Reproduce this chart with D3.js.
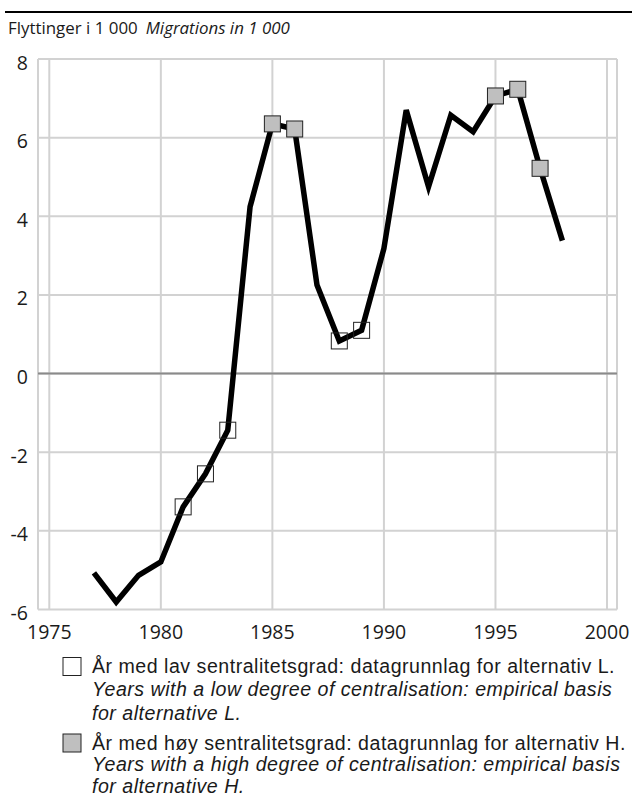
<!DOCTYPE html>
<html><head><meta charset="utf-8">
<script src="https://cdn.jsdelivr.net/npm/d3@7"></script>
<style>
html,body{margin:0;padding:0;background:#fff;}
svg{display:block;font-family:"Open Sans",sans-serif;}
</style></head>
<body>
<svg id="c" width="632" height="796"></svg>
<script>
const years = [1977,1978,1979,1980,1981,1982,1983,1984,1985,1986,1987,1988,1989,1990,1991,1992,1993,1994,1995,1996,1997,1998];
const migrations = [-5.07,-5.81,-5.13,-4.79,-3.39,-2.55,-1.44,4.24,6.35,6.22,2.25,0.83,1.10,3.18,6.70,4.75,6.57,6.15,7.06,7.23,5.22,3.38];
const lowYears = [1981,1982,1983,1988,1989];
const highYears = [1985,1986,1995,1996,1997];
const xTicks = [1975,1980,1985,1990,1995,2000];
const yTicks = [-6,-4,-2,0,2,4,6,8];
const titleNo = "Flyttinger i 1 000";
const titleEn = "Migrations in 1 000";
const legendLow = ["År med lav sentralitetsgrad: datagrunnlag for alternativ L.","Years with a low degree of centralisation: empirical basis","for alternative L."];
const legendHigh = ["År med høy sentralitetsgrad: datagrunnlag for alternativ H.","Years with a high degree of centralisation: empirical basis","for alternative H."];

const svg = d3.select("#c");
const x = d3.scaleLinear().domain([1975,2000]).range([49.3,607]);
const y = d3.scaleLinear().domain([-6,8]).range([609.5,59]);
const left = 38, right = 617;
const grid = "#d2d2d2";
const fsTitle = 16.9, fsTick = 19.5;
const ink = "#1a1a1a";
const legFont = "'Liberation Sans', Arial, sans-serif";

// top rule
svg.append("line").attr("x1",5).attr("x2",632).attr("y1",12).attr("y2",12).attr("stroke","#000").attr("stroke-width",2);

// title
const t = svg.append("text").attr("x",8).attr("y",33.5).attr("font-size",fsTitle).attr("fill",ink);
t.append("tspan").text(titleNo);
t.append("tspan").attr("font-style","italic").attr("dx",8).text(titleEn);

// grid
const g = svg.append("g");
g.selectAll(".hg").data(yTicks).join("line")
  .attr("x1",left).attr("x2",right).attr("y1",d=>y(d)).attr("y2",d=>y(d))
  .attr("stroke",grid).attr("stroke-width",2);
g.selectAll(".vg").data(xTicks).join("line")
  .attr("x1",d=>x(d)).attr("x2",d=>x(d)).attr("y1",y(8)).attr("y2",y(-6))
  .attr("stroke",grid).attr("stroke-width",2);
g.append("line").attr("x1",left).attr("x2",left).attr("y1",y(8)).attr("y2",y(-6)).attr("stroke",grid).attr("stroke-width",2);
g.append("line").attr("x1",right).attr("x2",right).attr("y1",y(8)).attr("y2",y(-6)).attr("stroke",grid).attr("stroke-width",2);
g.append("line").attr("x1",left).attr("x2",right).attr("y1",y(0)).attr("y2",y(0)).attr("stroke","#8a8a8a").attr("stroke-width",2);

// y labels
svg.selectAll(".yl").data(yTicks).join("text")
  .attr("x",28).attr("y",d=>y(d)+10.5).attr("text-anchor","end").attr("font-size",fsTick).attr("fill",ink)
  .text(d=>d);
// x labels
svg.selectAll(".xl").data(xTicks).join("text")
  .attr("x",d=>x(d)).attr("y",638.5).attr("text-anchor","middle").attr("font-size",fsTick).attr("fill",ink)
  .text(d=>d);

// line
const data = years.map((yr,i)=>({yr, v:migrations[i]}));
svg.append("path").datum(data)
  .attr("d", d3.line().x(d=>x(d.yr)).y(d=>y(d.v)))
  .attr("fill","none").attr("stroke","#000").attr("stroke-width",5.5).attr("stroke-linejoin","miter");

// markers
const ms = 16;
function markers(list, fill){
  svg.selectAll(null).data(data.filter(d=>list.includes(d.yr))).join("rect")
    .attr("x",d=>x(d.yr)-ms/2).attr("y",d=>y(d.v)-ms/2).attr("width",ms).attr("height",ms)
    .attr("fill",fill).attr("fill-opacity", fill==="none"?0:1).attr("stroke","#222").attr("stroke-width",1);
}
markers(lowYears,"none");
markers(highYears,"#bfbfbf");

// legend: font size capped so lines don't overlap; letter-spacing widens to reference width
const fsLeg = 19.6;
const probe = svg.append("text").attr("font-family",legFont).attr("font-size",fsLeg).text(legendLow[0]);
const w0 = probe.node().getComputedTextLength();
probe.remove();
const ls = Math.max(0, Math.min(0.8, (523 - w0) / legendLow[0].length));

function legend(lines, y0, fill, step){
  svg.append("rect").attr("x",63).attr("y",y0-15.5).attr("width",18).attr("height",18)
    .attr("fill",fill).attr("stroke","#222").attr("stroke-width",1);
  lines.forEach((s,i)=>{
    svg.append("text").attr("x",92).attr("y",y0+i*step).attr("font-family",legFont).attr("font-size",fsLeg)
      .attr("letter-spacing",ls).attr("fill",ink)
      .attr("font-style", i===0?"normal":"italic").text(s);
  });
}
legend(legendLow, 673, "#fff", 23.4);
legend(legendHigh, 749.5, "#bfbfbf", 21.9);
</script>
</body></html>
